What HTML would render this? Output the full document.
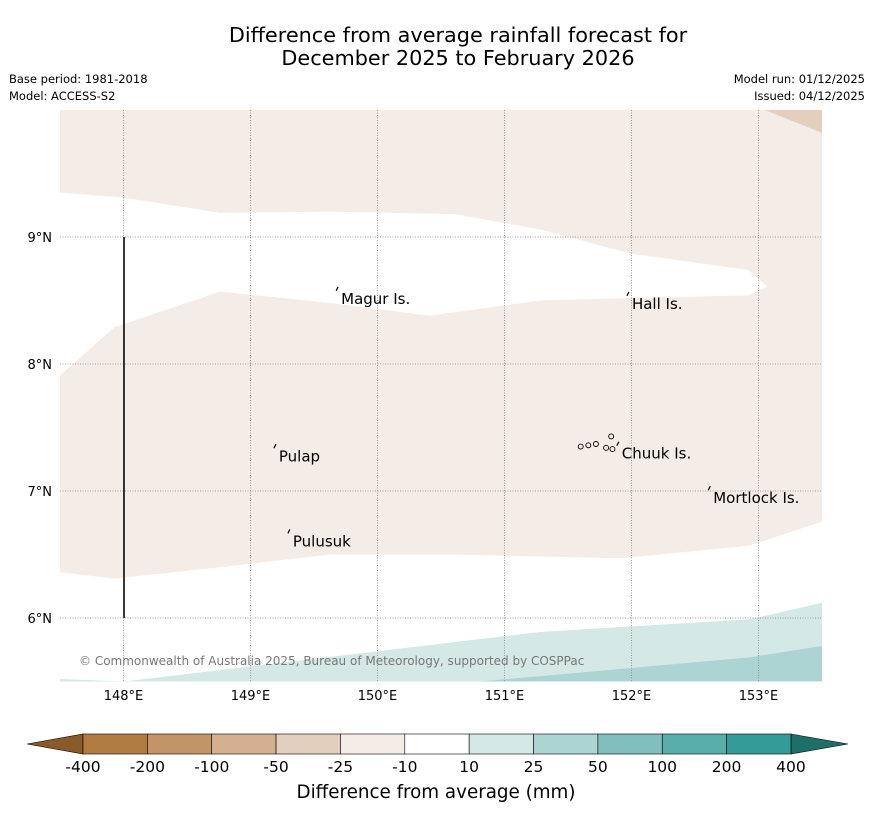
<!DOCTYPE html>
<html><head><meta charset="utf-8"><style>
body{margin:0;background:#fff;font-family:"Liberation Sans","DejaVu Sans",sans-serif}
svg text{font-family:"DejaVu Sans","Liberation Sans",sans-serif}
</style></head><body>
<svg id="s" width="873" height="816" xmlns="http://www.w3.org/2000/svg">
<text x="458" y="42" text-anchor="middle" font-size="20.8">Difference from average rainfall forecast for</text>
<text x="458" y="65" text-anchor="middle" font-size="20.8">December 2025 to February 2026</text>
<text x="9" y="83" font-size="11.5">Base period: 1981-2018</text>
<text x="9" y="100" font-size="11.5">Model: ACCESS-S2</text>
<text x="865" y="83" font-size="11.5" text-anchor="end">Model run: 01/12/2025</text>
<text x="865" y="100" font-size="11.5" text-anchor="end">Issued: 04/12/2025</text>
<g id="map"></g>
<g id="cb"></g>
<text x="436" y="798" text-anchor="middle" font-size="18.3">Difference from average (mm)</text>
</svg>
<script>
const lonTicks=[148,149,150,151,152,153];
const latTicks=[9,8,7,6];
// regions as [lon,lat] vertices
const whiteBandNorth=[[147.5,9.35],[148,9.31],[148.76,9.19],[149.63,9.2],[150.61,9.18],[151.28,9.06],[151.99,8.87],[152.92,8.74],[153.07,8.61],[152.92,8.54],[151.99,8.52],[151.28,8.5],[150.41,8.38],[149.63,8.48],[148.76,8.57],[147.93,8.29],[147.5,7.91]];
const whiteBandSouth=[[147.5,6.36],[147.93,6.31],[148.76,6.4],[149.63,6.5],[150.61,6.5],[151.91,6.47],[152.93,6.57],[153.5,6.76],[153.5,5.5],[147.5,5.5]];
const teal10=[[147.5,5.52],[148,5.5],[151.28,5.89],[152.93,5.99],[153.5,6.12],[153.5,5.5],[147.5,5.5]];
const teal25=[[150.81,5.5],[152.15,5.62],[152.93,5.69],[153.5,5.78],[153.5,5.5]];
const tanCorner=[[153.05,10],[153.5,9.82],[153.5,10]];
const islands=[{n:"Magur Is.",lon:149.69,lat:8.6},{n:"Hall Is.",lon:151.98,lat:8.56},{n:"Pulap",lon:149.2,lat:7.36},{n:"Chuuk Is.",lon:151.9,lat:7.38},{n:"Mortlock Is.",lon:152.62,lat:7.03},{n:"Pulusuk",lon:149.31,lat:6.69}];
const chuukIslets=[[151.6,7.35],[151.66,7.36],[151.72,7.37],[151.8,7.34],[151.84,7.43],[151.85,7.33]];
const levels=["-400","-200","-100","-50","-25","-10","10","25","50","100","200","400"];
const cbColors=["#b07a40","#c29468","#d4b08e","#e2cfbd","#f4ece6","#ffffff","#d4e8e6","#acd4d3","#81bfbe","#59aeaa","#339c98"];
const NS="http://www.w3.org/2000/svg";
const X=l=>60+(l-147.5)*127, Y=l=>110+(10-l)*127;
function mk(t,a,p){const e=document.createElementNS(NS,t);for(const k in a)e.setAttribute(k,a[k]);p.appendChild(e);return e;}
const map=document.getElementById('map');
let r=mk('rect',{x:60,y:110,width:762,height:571,fill:'#f4ece6'},map);


function poly(pts,fill,name){const p=mk('polygon',{points:pts.map(q=>X(q[0])+','+Y(q[1])).join(' '),fill:fill},map);

}
poly(tanCorner,'#e2cfbd','region-minus50');
poly(whiteBandNorth,'#ffffff','region-neutral-north');
poly(whiteBandSouth,'#ffffff','region-neutral-south');
poly(teal10,'#d4e8e6','region-plus10');
poly(teal25,'#acd4d3','region-plus25');
lonTicks.forEach(l=>{const g=mk('line',{x1:X(l),x2:X(l),y1:110,y2:681,stroke:'#888','stroke-width':0.8,'stroke-dasharray':'1,1.5'},map);


const t=mk('text',{x:X(l),y:700,'text-anchor':'middle','font-size':13},map);t.textContent=l+'°E';

});
latTicks.forEach(l=>{const g=mk('line',{x1:60,x2:822,y1:Y(l),y2:Y(l),stroke:'#888','stroke-width':0.8,'stroke-dasharray':'1,1.5'},map);


const t=mk('text',{x:52,y:Y(l)+5,'text-anchor':'end','font-size':13},map);t.textContent=l+'°N';

});
let vl=mk('line',{x1:124,x2:124,y1:Y(9),y2:Y(6),stroke:'#222','stroke-width':1.8},map);


chuukIslets.forEach(c=>{const e=mk('circle',{cx:X(c[0]),cy:Y(c[1]),r:2.5,fill:'none',stroke:'#000','stroke-width':0.9},map);

});
islands.forEach(i=>{const m=mk('path',{d:`M${X(i.lon)-2},${Y(i.lat)+3} l2,-4`,stroke:'#000','stroke-width':1.2,fill:'none'},map);


const t=mk('text',{x:X(i.lon)+3,y:Y(i.lat)+16,'font-size':15},map);t.textContent=i.n;

});
let cp=mk('text',{x:79,y:665,'font-size':12,fill:'#777'},map);cp.textContent='© Commonwealth of Australia 2025, Bureau of Meteorology, supported by COSPPac';


const cb=document.getElementById('cb');
const x0=83,w=64.36,y0=734,h=20;
let tl=mk('polygon',{points:`27,744 ${x0},${y0} ${x0},${y0+h}`,fill:'#8b5a2b',stroke:'#000','stroke-width':0.6},cb);


let tr=mk('polygon',{points:`${x0+11*w},${y0} 848,744 ${x0+11*w},${y0+h}`,fill:'#1e6f6a',stroke:'#000','stroke-width':0.6},cb);


cbColors.forEach((c,i)=>{const b=mk('rect',{x:x0+i*w,y:y0,width:w,height:h,fill:c,stroke:'#000','stroke-width':0.6},cb);

});
levels.forEach((l,i)=>{const t=mk('text',{x:x0+i*w,y:772,'text-anchor':'middle','font-size':15.5},cb);t.textContent=l;

});
</script>
</body></html>
